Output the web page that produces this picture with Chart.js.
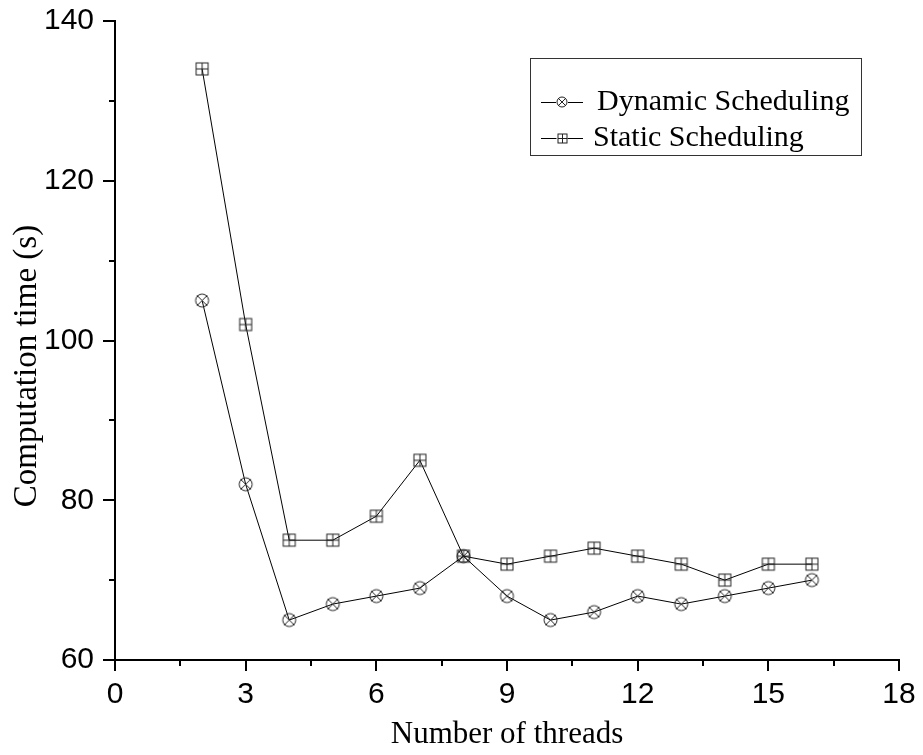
<!DOCTYPE html>
<html>
<head>
<meta charset="utf-8">
<script src="https://cdn.jsdelivr.net/npm/chart.js@4/dist/chart.umd.min.js"></script>
<style>
  body { margin: 0; background: #fff; }
  #wrap { width: 923px; height: 755px; }
</style>
</head>
<body>
<div id="wrap"><canvas id="graph" width="923" height="755"></canvas></div>
<script>
// données
const threads = [2, 3, 4, 5, 6, 7, 8, 9, 10, 11, 12, 13, 14, 15, 16];
const dynamicTimes = [105, 82, 65, 67, 68, 69, 73, 68, 65, 66, 68, 67, 68, 69, 70];
const staticTimes = [134, 102, 75, 75, 78, 85, 73, 72, 73, 74, 73, 72, 70, 72, 72];
const seriesNames = ['Dynamic Scheduling', 'Static Scheduling'];
const xTicks = [0, 3, 6, 9, 12, 15, 18];
const yTicks = [60, 80, 100, 120, 140];
const yTitle = 'Computation time (s)';

const serif = "'Liberation Serif', 'Times New Roman', serif";
const sans = "'Liberation Sans', Arial, sans-serif";

// marqueur cercle avec croix
function makeCircleX(r) {
    const size = Math.ceil(r * 2 + 4);
    const c = document.createElement('canvas');
    c.width = size; c.height = size;
    const ctx = c.getContext('2d');
    const m = size / 2;
    ctx.strokeStyle = '#222';
    ctx.lineWidth = 1;
    ctx.beginPath();
    ctx.arc(m, m, r, 0, Math.PI * 2);
    ctx.stroke();
    const d = r * 0.78;
    ctx.beginPath();
    ctx.moveTo(m - d, m - d); ctx.lineTo(m + d, m + d);
    ctx.moveTo(m + d, m - d); ctx.lineTo(m - d, m + d);
    ctx.stroke();
    return c;
}

// marqueur carré avec plus
function makeSquarePlus(h) {
    const size = Math.ceil(h * 2 + 4);
    const c = document.createElement('canvas');
    c.width = size; c.height = size;
    const ctx = c.getContext('2d');
    const m = size / 2;
    ctx.strokeStyle = '#222';
    ctx.lineWidth = 1;
    ctx.strokeRect(m - h, m - h, h * 2, h * 2);
    ctx.beginPath();
    ctx.moveTo(m, m - h); ctx.lineTo(m, m + h);
    ctx.moveTo(m - h, m); ctx.lineTo(m + h, m);
    ctx.stroke();
    return c;
}

const circleMark = makeCircleX(6.5);
const squareMark = makeSquarePlus(6);
const circleSmall = makeCircleX(5);
const squareSmall = makeSquarePlus(4.5);

// petites graduations intermédiaires
const minorTicks = {
    id: 'minorTicks',
    afterDraw(chart) {
        const ctx = chart.ctx;
        const xs = chart.scales.x, ys = chart.scales.y;
        ctx.save();
        ctx.strokeStyle = '#000';
        ctx.lineWidth = 2;
        ctx.beginPath();
        for (let i = 0; i < xTicks.length - 1; i++) {
            const px = Math.round(xs.getPixelForValue((xTicks[i] + xTicks[i + 1]) / 2));
            ctx.moveTo(px, ys.bottom);
            ctx.lineTo(px, ys.bottom + 6);
        }
        for (let i = 0; i < yTicks.length - 1; i++) {
            const py = Math.round(ys.getPixelForValue((yTicks[i] + yTicks[i + 1]) / 2));
            ctx.moveTo(xs.left, py);
            ctx.lineTo(xs.left - 6, py);
        }
        ctx.stroke();
        ctx.restore();
    }
};

// titre vertical placé à la main (décalé vers le bas comme l'original)
const yTitlePlugin = {
    id: 'yTitlePlugin',
    afterDraw(chart) {
        const ctx = chart.ctx;
        ctx.save();
        ctx.translate(36, 366);
        ctx.rotate(-Math.PI / 2);
        ctx.font = '33px ' + serif;
        ctx.fillStyle = '#000';
        ctx.textAlign = 'center';
        ctx.textBaseline = 'alphabetic';
        ctx.fillText(yTitle, 0, 0);
        ctx.restore();
    }
};

// légende encadrée dans la zone du graphique
const boxLegend = {
    id: 'boxLegend',
    afterDraw(chart) {
        const ctx = chart.ctx;
        ctx.save();
        ctx.strokeStyle = '#333';
        ctx.lineWidth = 1;
        ctx.strokeRect(530.5, 58.5, 331, 97);
        const rows = [
            { y: 102, mark: circleSmall, text: seriesNames[0], tx: 597 },
            { y: 138, mark: squareSmall, text: seriesNames[1], tx: 593 }
        ];
        ctx.font = '30px ' + serif;
        ctx.fillStyle = '#000';
        ctx.textBaseline = 'middle';
        rows.forEach(r => {
            ctx.strokeStyle = '#000';
            ctx.beginPath();
            ctx.moveTo(541, r.y + 0.5);
            ctx.lineTo(583, r.y + 0.5);
            ctx.stroke();
            ctx.fillStyle = '#fff';
            ctx.fillRect(562 - r.mark.width / 2 + 1, r.y - r.mark.height / 2 + 1, r.mark.width - 2, r.mark.height - 2);
            ctx.drawImage(r.mark, Math.round(562 - r.mark.width / 2), Math.round(r.y - r.mark.height / 2));
            ctx.fillStyle = '#000';
            ctx.fillText(r.text, r.tx, r.y);
        });
        ctx.restore();
    }
};

const canvas = document.getElementById('graph');
new Chart(canvas, {
    type: 'line',
    data: {
        datasets: [{
            label: seriesNames[0],
            data: threads.map((t, i) => ({ x: t, y: dynamicTimes[i] })),
            borderColor: '#000',
            borderWidth: 1,
            pointStyle: circleMark,
            pointRadius: 7,
            tension: 0
        }, {
            label: seriesNames[1],
            data: threads.map((t, i) => ({ x: t, y: staticTimes[i] })),
            borderColor: '#000',
            borderWidth: 1,
            pointStyle: squareMark,
            pointRadius: 7,
            tension: 0
        }]
    },
    options: {
        responsive: false,
        animation: false,
        layout: { padding: { top: 21, right: 24, left: 0, bottom: 0 } },
        plugins: {
            legend: { display: false },
            tooltip: { enabled: false }
        },
        scales: {
            x: {
                type: 'linear',
                min: 0,
                max: 18,
                afterBuildTicks: s => { s.ticks = xTicks.map(v => ({ value: v })); },
                afterFit: s => { s.height = 95; s.paddingLeft = 0; s.paddingRight = 0; },
                border: { display: true, color: '#000', width: 2 },
                grid: { drawOnChartArea: false, drawTicks: true, tickLength: 11, color: '#000', lineWidth: 2 },
                ticks: { color: '#000', font: { family: sans, size: 30 }, padding: 6, maxRotation: 0 },
                title: { display: true, text: 'Number of threads', color: '#000', font: { family: serif, size: 31 }, padding: { top: 0, bottom: 2 } }
            },
            y: {
                type: 'linear',
                min: 60,
                max: 140,
                afterBuildTicks: s => { s.ticks = yTicks.map(v => ({ value: v })); },
                afterFit: s => { s.width = 115; s.paddingTop = 0; s.paddingBottom = 0; },
                border: { display: true, color: '#000', width: 2 },
                grid: { drawOnChartArea: false, drawTicks: true, tickLength: 12, color: '#000', lineWidth: 2 },
                ticks: { color: '#000', font: { family: sans, size: 30 }, padding: 9 },
                title: { display: false }
            }
        }
    },
    plugins: [minorTicks, yTitlePlugin, boxLegend]
});
</script>
</body>
</html>
